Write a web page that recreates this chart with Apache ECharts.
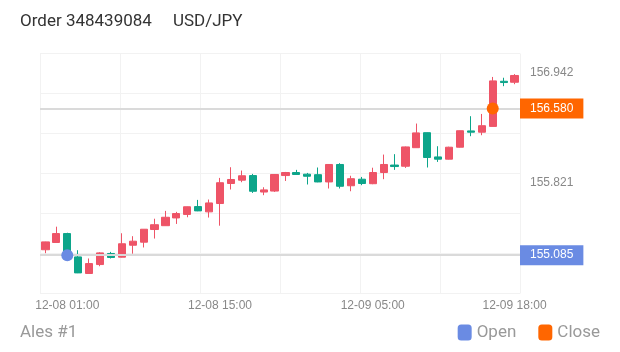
<!DOCTYPE html>
<html>
<head>
<meta charset="utf-8">
<title>Order 348439084 USD/JPY</title>
<script src="https://cdn.jsdelivr.net/npm/echarts@6/dist/echarts.min.js"></script>
<style>
  html, body { margin: 0; padding: 0; background: #fff; }
  #chart { width: 620px; height: 352px; }
</style>
</head>
<body>
<div id="chart"></div>
<script>
// hourly candles, USD/JPY
const categories = [
  '12-07 23:00',
  '12-08 00:00', '12-08 01:00', '12-08 02:00', '12-08 03:00', '12-08 04:00', '12-08 05:00',
  '12-08 06:00', '12-08 07:00', '12-08 08:00', '12-08 09:00', '12-08 10:00', '12-08 11:00',
  '12-08 12:00', '12-08 13:00', '12-08 14:00', '12-08 15:00', '12-08 16:00', '12-08 17:00',
  '12-08 18:00', '12-08 19:00', '12-08 20:00', '12-08 21:00', '12-08 22:00', '12-08 23:00',
  '12-09 00:00', '12-09 01:00', '12-09 02:00', '12-09 03:00', '12-09 04:00', '12-09 05:00',
  '12-09 06:00', '12-09 07:00', '12-09 08:00', '12-09 09:00', '12-09 10:00', '12-09 11:00',
  '12-09 12:00', '12-09 13:00', '12-09 14:00', '12-09 15:00', '12-09 16:00', '12-09 17:00',
  '12-09 18:00'
];
const opens = [155.140, 155.214, 155.305, 155.067, 154.898, 154.989, 155.102, 155.064, 155.186, 155.217, 155.346, 155.385, 155.464, 155.500, 155.580, 155.526, 155.611, 155.815, 155.849, 155.896, 155.728, 155.738, 155.896, 155.927, 155.910, 155.905, 155.831, 156.009, 155.792, 155.859, 155.813, 155.927, 156.003, 155.991, 156.180, 156.333, 156.086, 156.063, 156.185, 156.351, 156.338, 156.397, 156.857, 156.847];
const closes = [155.220, 155.305, 155.090, 154.904, 154.999, 155.108, 155.061, 155.201, 155.227, 155.349, 155.395, 155.471, 155.509, 155.578, 155.536, 155.617, 155.823, 155.856, 155.894, 155.736, 155.750, 155.907, 155.927, 155.907, 155.889, 155.831, 156.009, 155.787, 155.864, 155.815, 155.927, 156.009, 155.988, 156.188, 156.331, 156.080, 156.063, 156.185, 156.353, 156.338, 156.404, 156.861, 156.844, 156.916];
const lows = [155.105, 155.212, 155.064, 154.902, 154.896, 154.972, 155.051, 155.061, 155.100, 155.163, 155.254, 155.383, 155.403, 155.471, 155.533, 155.468, 155.385, 155.754, 155.828, 155.719, 155.696, 155.729, 155.841, 155.905, 155.805, 155.828, 155.764, 155.764, 155.736, 155.798, 155.808, 155.859, 155.954, 155.974, 156.178, 155.978, 156.035, 156.060, 156.182, 156.297, 156.307, 156.396, 156.807, 156.827];
const highs = [155.222, 155.375, 155.313, 155.135, 155.051, 155.115, 155.118, 155.308, 155.278, 155.350, 155.456, 155.536, 155.526, 155.580, 155.648, 155.652, 155.872, 155.981, 155.947, 155.913, 155.777, 155.910, 155.933, 155.954, 155.923, 155.978, 156.012, 156.022, 155.894, 155.882, 155.976, 156.110, 156.114, 156.192, 156.426, 156.335, 156.195, 156.190, 156.355, 156.501, 156.524, 156.901, 156.893, 156.930];

// order open / close
const openTime = '12-08 01:00';
const openPrice = 155.085;
const closeTime = '12-09 16:00';
const closePrice = 156.580;

// tick labels
const xLabelTimes = ['12-08 01:00', '12-08 15:00', '12-09 05:00', '12-09 18:00'];
const yLabelValues = [155.821, 156.942];
const yMin = 154.694;
const yMax = 157.140;

const titleText = 'Order 348439084     USD/JPY';
const accountText = 'Ales #1';

const upColor = '#ee5467';
const downColor = '#0ca58a';
const openColor = '#6a8be3';
const closeColor = '#ff6600';
const gridColor = '#f2f2f2';
const font = 'Roboto, "Liberation Sans", sans-serif';

const candles = opens.map((o, i) => [o, closes[i], lows[i], highs[i]]);

function priceLine(value, color) {
  return {
    symbol: 'none',
    silent: true,
    precision: 3,
    lineStyle: { color: '#dadada', width: 2, type: 'solid' },
    label: {
      show: true,
      position: 'end',
      distance: 0,
      formatter: p => Number(p.value).toFixed(3),
      color: '#fff',
      fontSize: 12,
      fontFamily: '"Liberation Sans", Arial, sans-serif',
      backgroundColor: color,
      padding: [4, 10, 4, 10]
    },
    data: [{ yAxis: value }]
  };
}

const chart = echarts.init(document.getElementById('chart'));
chart.setOption({
  animation: false,
  title: [
    {
      text: titleText,
      left: 15,
      top: 8,
      textStyle: { fontFamily: font, fontSize: 17, fontWeight: 'normal', color: '#333' }
    },
    {
      text: accountText,
      left: 15,
      bottom: 6,
      textStyle: { fontFamily: font, fontSize: 17, fontWeight: 'normal', color: '#999' }
    }
  ],
  legend: {
    data: ['Open', 'Close'],
    right: 15,
    bottom: 6,
    icon: 'roundRect',
    itemWidth: 14,
    itemHeight: 16,
    itemGap: 22,
    textStyle: { fontFamily: font, fontSize: 17, color: '#999' }
  },
  grid: { left: 40, right: 100, top: 53.5, bottom: 58.5 },
  xAxis: [
    {
      type: 'category',
      data: categories,
      boundaryGap: true,
      axisLine: { show: false },
      axisTick: { show: false },
      splitLine: { show: false },
      axisLabel: {
        interval: (i, v) => xLabelTimes.includes(v),
        color: '#888',
        fontSize: 12,
        fontFamily: '"Liberation Sans", Arial, sans-serif',
        margin: 6
      }
    },
    {
      type: 'value',
      min: 0,
      max: 6,
      interval: 1,
      position: 'bottom',
      axisLine: { show: false },
      axisTick: { show: false },
      axisLabel: { show: false },
      splitLine: { show: true, lineStyle: { color: gridColor } }
    }
  ],
  yAxis: [
    {
      type: 'value',
      position: 'right',
      min: yMin,
      max: yMax,
      axisLine: { show: false },
      axisTick: { show: false },
      splitLine: { show: false },
      axisLabel: {
        customValues: yLabelValues,
        formatter: v => v.toFixed(3),
        color: '#888',
        fontSize: 12,
        fontFamily: '"Liberation Sans", Arial, sans-serif',
        margin: 10
      }
    },
    {
      type: 'value',
      min: 0,
      max: 6,
      interval: 1,
      position: 'left',
      axisLine: { show: false },
      axisTick: { show: false },
      axisLabel: { show: false },
      splitLine: { show: true, lineStyle: { color: gridColor } }
    }
  ],
  series: [
    {
      name: 'USD/JPY',
      type: 'candlestick',
      xAxisIndex: 0,
      yAxisIndex: 0,
      data: candles,
      barWidth: '70%',
      itemStyle: {
        color: upColor,
        color0: downColor,
        borderColor: upColor,
        borderColor0: downColor
      }
    },
    {
      name: 'Open',
      type: 'scatter',
      xAxisIndex: 0,
      yAxisIndex: 0,
      symbolSize: 12,
      itemStyle: { color: openColor, opacity: 1 },
      data: [[openTime, openPrice]],
      markLine: priceLine(openPrice, openColor),
      z: 5
    },
    {
      name: 'Close',
      type: 'scatter',
      xAxisIndex: 0,
      yAxisIndex: 0,
      symbolSize: 12,
      itemStyle: { color: closeColor, opacity: 1 },
      data: [[closeTime, closePrice]],
      markLine: priceLine(closePrice, closeColor),
      z: 5
    }
  ]
});
</script>
</body>
</html>
